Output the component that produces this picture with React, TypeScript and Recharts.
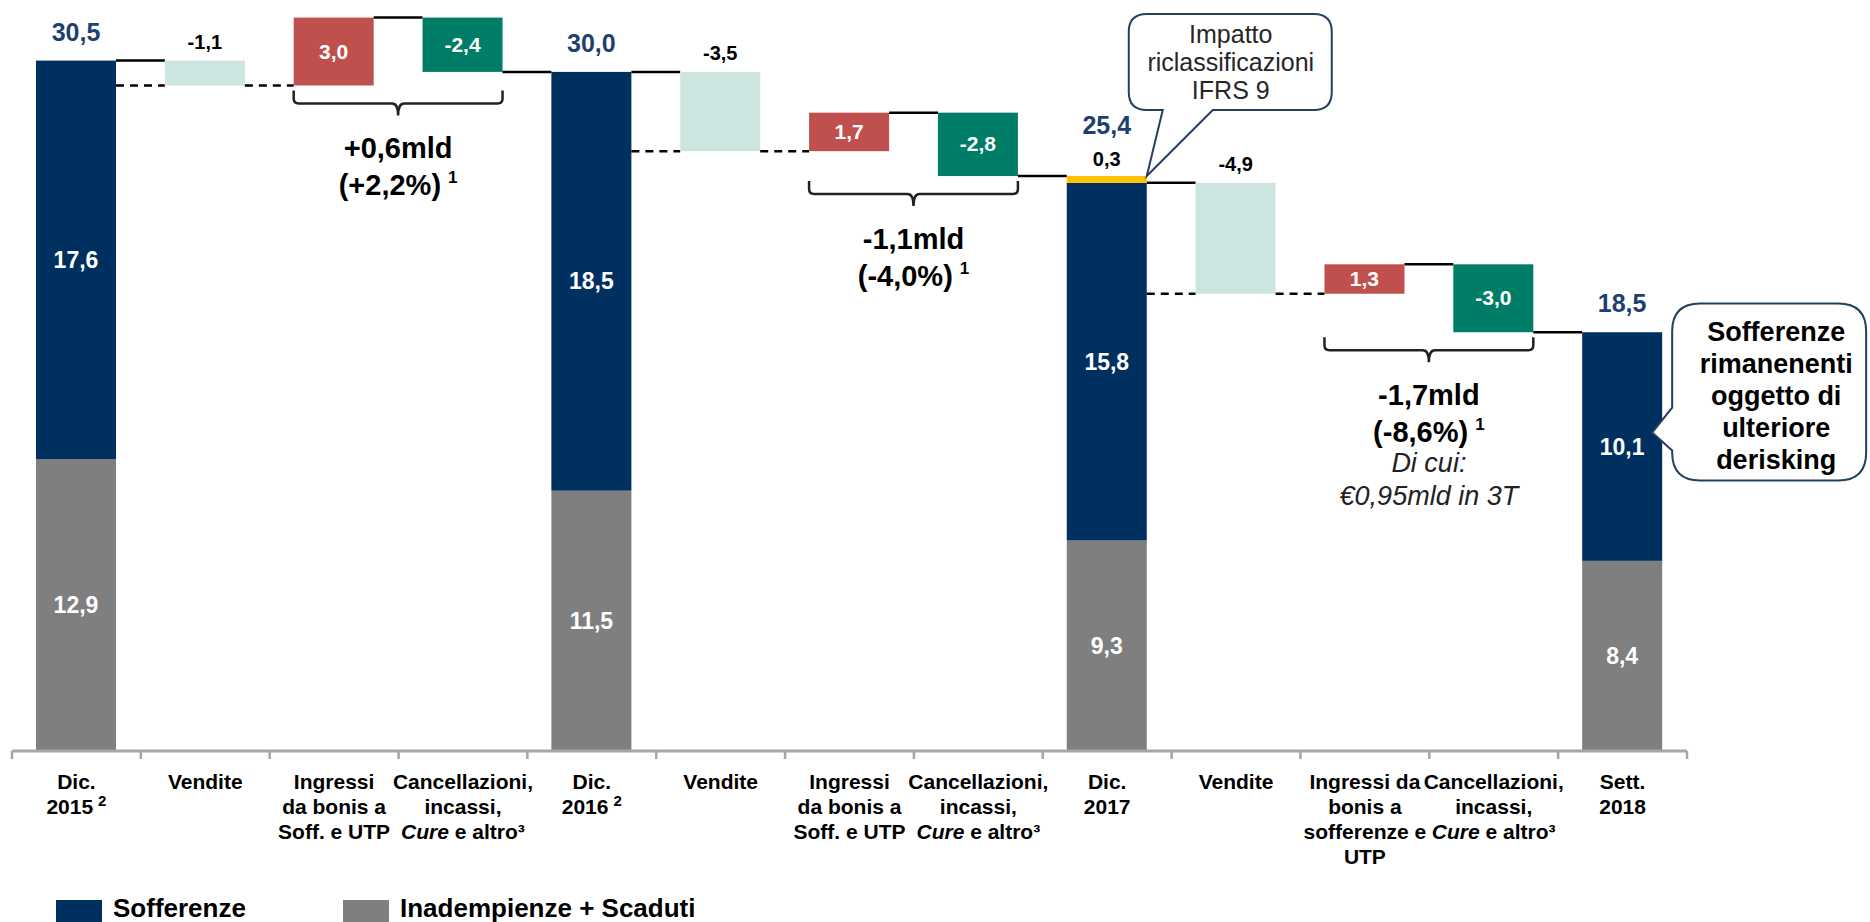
import React from "react";
import { BarChart, Bar, XAxis, YAxis, Legend } from "recharts";

// categories along the axis (keys are unique, labels live in tickLabels)
const categories = [
  "dic15", "vend16", "ingr16", "canc16",
  "dic16", "vend17", "ingr17", "canc17",
  "dic17", "vend18", "ingr18", "canc18",
  "sett18",
];
const kinds = [
  "stock", "sales", "inflow", "outflow",
  "stock", "sales", "inflow", "outflow",
  "stock", "sales", "inflow", "outflow",
  "stock",
];
const tickLabels: string[][] = [
  ["Dic.", "2015^2"],
  ["Vendite"],
  ["Ingressi", "da bonis a", "Soff. e UTP"],
  ["Cancellazioni,", "incassi,", "*Cure* e altro³"],
  ["Dic.", "2016^2"],
  ["Vendite"],
  ["Ingressi", "da bonis a", "Soff. e UTP"],
  ["Cancellazioni,", "incassi,", "*Cure* e altro³"],
  ["Dic.", "2017"],
  ["Vendite"],
  ["Ingressi da", "bonis a", "sofferenze e", "UTP"],
  ["Cancellazioni,", "incassi,", "*Cure* e altro³"],
  ["Sett.", "2018"],
];

// values in € bn
const sofferenze = [17.6, null, null, null, 18.5, null, null, null, 15.8, null, null, null, 10.1];
const inadempienze = [12.9, null, null, null, 11.5, null, null, null, 9.3, null, null, null, 8.4];
const ifrs9 = [null, null, null, null, null, null, null, null, 0.3, null, null, null, null];
const movements = [null, -1.1, 3.0, -2.4, null, -3.5, 1.7, -2.8, null, -4.9, 1.3, -3.0, null];

const braceMain = ["+0,6mld", "-1,1mld", "-1,7mld"];
const bracePct = ["(+2,2%)", "(-4,0%)", "(-8,6%)"];
const braceNote: string[][] = [[], [], ["Di cui:", "€0,95mld in 3T"]];
const ifrsCallout = ["Impatto", "riclassificazioni", "IFRS 9"];
const deriskCallout = ["Sofferenze", "rimanenenti", "oggetto di", "ulteriore", "derisking"];

const W = 1870;
const H = 922;
const MARGIN = { top: 4, right: 183, bottom: 51, left: 12 };
const AXIS_H = 120;
const BAR = 80;
const BAND = (W - MARGIN.left - MARGIN.right) / categories.length;
const Y_MAX = 33;

const FONT = "'Liberation Sans', Arial, Helvetica, sans-serif";
const NAVY = "#00305F";
const NAVY_TEXT = "#1F3F6E";
const GRAY = "#7F7F7F";
const SALES = "#CDE5E0";
const RED = "#C0504D";
const GREEN = "#007D66";
const YELLOW = "#FFC000";
const AXIS = "#A6A6A6";
const CALLOUT = "#243F60";

const fmt = (v: number) => v.toFixed(1).replace(".", ",");
const signed = (v: number) => (v < 0 ? "-" : "") + fmt(Math.abs(v));

// waterfall rows: invisible base + visible pieces
let level = 0;
const rows = categories.map((key, i) => {
  const move = movements[i];
  let base: number | null = null;
  let size: number | null = null;
  if (move == null) {
    level = (inadempienze[i] ?? 0) + (sofferenze[i] ?? 0);
  } else {
    const end = level + move;
    base = Math.min(level, end);
    size = Math.abs(move);
    level = end;
  }
  return {
    key,
    kind: kinds[i],
    gray: inadempienze[i],
    navy: sofferenze[i],
    ifrs: ifrs9[i],
    move,
    base,
    sale: kinds[i] === "sales" ? size : null,
    flow: kinds[i] === "inflow" || kinds[i] === "outflow" ? size : null,
    after: level,
  };
});

// connector lines in the gap right of bar i
const gapLines = (i: number) => {
  if (i >= rows.length - 1) return [];
  const out = [{ level: rows[i].after, dashed: rows[i].kind === "sales" }];
  if (rows[i].kind === "stock" && rows[i + 1].kind === "sales") {
    out.push({ level: rows[i + 1].after, dashed: true });
  }
  return out;
};

function Connectors({ i, x, width, yOf }: any) {
  return (
    <g>
      {gapLines(i).map((g, k) => (
        <line
          key={k}
          x1={x + width}
          x2={x + BAND}
          y1={yOf(g.level)}
          y2={yOf(g.level)}
          stroke="#000"
          strokeWidth={2.5}
          strokeDasharray={g.dashed ? "8 6" : undefined}
        />
      ))}
    </g>
  );
}

function Txt({ x, y, size, bold, fill = "#000", italic, anchor = "middle", children }: any) {
  return (
    <text
      x={x}
      y={y}
      textAnchor={anchor}
      fontFamily={FONT}
      fontSize={size}
      fontWeight={bold ? 700 : 400}
      fontStyle={italic ? "italic" : "normal"}
      fill={fill}
    >
      {children}
    </text>
  );
}

function Brace({ x1, x2, top, pair }: any) {
  const mid = (x1 + x2) / 2;
  const h = 13;
  const d = `M${x1},${top} L${x1},${top + h - 5} Q${x1},${top + h} ${x1 + 5},${top + h} L${mid - 6},${top + h} Q${mid},${top + h} ${mid},${top + 25} Q${mid},${top + h} ${mid + 6},${top + h} L${x2 - 5},${top + h} Q${x2},${top + h} ${x2},${top + h - 5} L${x2},${top}`;
  return (
    <g>
      <path d={d} fill="none" stroke="#222" strokeWidth={2.5} />
      <Txt x={mid} y={top + 68} size={29} bold>{braceMain[pair]}</Txt>
      <text x={mid} y={top + 105} textAnchor="middle" fontFamily={FONT} fontSize={29} fontWeight={700} fill="#000">
        {bracePct[pair]}
        <tspan fontSize={17} dx={7} dy={-12}>1</tspan>
      </text>
      {braceNote[pair].map((t, k) => (
        <Txt key={k} x={mid} y={top + 135 + k * 33} size={27} italic fill="#222">{t}</Txt>
      ))}
    </g>
  );
}

function IfrsCallout({ tx, ty }: any) {
  const L = tx - 18, T = ty - 162, R = L + 203, B = T + 96, r = 18;
  const p1 = tx + 16, p2 = tx + 66;
  const d = `M${L + r},${T} H${R - r} Q${R},${T} ${R},${T + r} V${B - r} Q${R},${B} ${R - r},${B} H${p2} L${tx},${ty} L${p1},${B} H${L + r} Q${L},${B} ${L},${B - r} V${T + r} Q${L},${T} ${L + r},${T} Z`;
  return (
    <g>
      <path d={d} fill="#fff" stroke={CALLOUT} strokeWidth={2} />
      {ifrsCallout.map((t, k) => (
        <Txt key={k} x={tx + 84} y={ty - 133 + k * 28} size={25} fill="#262626">{t}</Txt>
      ))}
    </g>
  );
}

function DeriskCallout({ tx, ty }: any) {
  const L = tx + 20, T = ty - 129, R = L + 194, B = T + 177, r = 28;
  const p1 = ty - 25, p2 = ty + 18;
  const d = `M${L + r},${T} H${R - r} Q${R},${T} ${R},${T + r} V${B - r} Q${R},${B} ${R - r},${B} H${L + r} Q${L},${B} ${L},${B - r} V${p2} L${tx},${ty} L${L},${p1} V${T + r} Q${L},${T} ${L + r},${T} Z`;
  return (
    <g>
      <path d={d} fill="#fff" stroke={CALLOUT} strokeWidth={2} />
      {deriskCallout.map((t, k) => (
        <Txt key={k} x={L + 104} y={T + 37 + k * 32} size={27} bold>{t}</Txt>
      ))}
    </g>
  );
}

function GrayShape(props: any) {
  const { x, y, width, height, payload } = props;
  if (!(height > 0)) return null;
  const row = rows[categories.indexOf(payload.key)];
  return (
    <g>
      <rect x={x} y={y} width={width} height={height} fill={GRAY} />
      <Txt x={x + width / 2} y={y + height / 2 + 8} size={23} bold fill="#fff">{fmt(row.gray as number)}</Txt>
    </g>
  );
}

function NavyShape(props: any) {
  const { x, y, width, height, payload } = props;
  if (!(height > 0)) return null;
  const i = categories.indexOf(payload.key);
  const row = rows[i];
  const top = (row.gray ?? 0) + (row.navy as number);
  const ppu = height / (row.navy as number);
  const yOf = (L: number) => y + (top - L) * ppu;
  return (
    <g>
      <rect x={x} y={y} width={width} height={height} fill={NAVY} />
      <Txt x={x + width / 2} y={y + height / 2 + 8} size={23} bold fill="#fff">{fmt(row.navy as number)}</Txt>
      {row.ifrs == null && (
        <Txt x={x + width / 2} y={y - 20} size={25} bold fill={NAVY_TEXT}>{fmt(top)}</Txt>
      )}
      <Connectors i={i} x={x} width={width} yOf={yOf} />
      {i === categories.length - 1 && <DeriskCallout tx={x + width - 10} ty={y + height / 2 - 14} />}
    </g>
  );
}

function IfrsShape(props: any) {
  const { x, y, width, height, payload } = props;
  if (!(height > 0)) return null;
  const row = rows[categories.indexOf(payload.key)];
  const total = (row.gray ?? 0) + (row.navy ?? 0) + (row.ifrs as number);
  return (
    <g>
      <rect x={x} y={y} width={width} height={height} fill={YELLOW} />
      <Txt x={x + width / 2} y={y - 10} size={20} bold>{fmt(row.ifrs as number)}</Txt>
      <Txt x={x + width / 2} y={y - 42} size={25} bold fill={NAVY_TEXT}>{fmt(total)}</Txt>
      <IfrsCallout tx={x + width} ty={y} />
    </g>
  );
}

function MoveShape(props: any) {
  const { x, y, width, height, payload } = props;
  if (!(height > 0)) return null;
  const i = categories.indexOf(payload.key);
  const row = rows[i];
  const size = Math.abs(row.move as number);
  const top = (row.base as number) + size;
  const ppu = height / size;
  const yOf = (L: number) => y + (top - L) * ppu;
  const fill = row.kind === "sales" ? SALES : row.kind === "inflow" ? RED : GREEN;
  let brace = null;
  if (row.kind === "outflow") {
    const pair = kinds.slice(0, i).filter((k) => k === "outflow").length;
    const low = Math.min(rows[i - 1].base as number, row.base as number);
    brace = <Brace x1={x - BAND} x2={x + width} top={yOf(low) + 5} pair={pair} />;
  }
  return (
    <g>
      <rect x={x} y={y} width={width} height={height} fill={fill} />
      {row.kind === "sales" ? (
        <Txt x={x + width / 2} y={y - 12} size={20} bold>{signed(row.move as number)}</Txt>
      ) : (
        <Txt x={x + width / 2} y={y + height / 2 + 7} size={21} bold fill="#fff">{signed(row.move as number)}</Txt>
      )}
      <Connectors i={i} x={x} width={width} yOf={yOf} />
      {brace}
    </g>
  );
}

function renderParts(line: string) {
  return line.split(/(\*[^*]+\*|\^\w)/).filter(Boolean).map((part, k) => {
    if (part.startsWith("*")) return <tspan key={k} fontStyle="italic">{part.slice(1, -1)}</tspan>;
    if (part.startsWith("^")) return <tspan key={k} fontSize={15} dx={5} dy={-8}>{part.slice(1)}</tspan>;
    return <tspan key={k}>{part}</tspan>;
  });
}

function AxisTick(props: any) {
  const { x, y, payload } = props;
  const i = categories.indexOf(payload.value);
  const lines = tickLabels[i] ?? [];
  return (
    <g>
      <line x1={x - BAND / 2} x2={x - BAND / 2} y1={y} y2={y + 8} stroke={AXIS} strokeWidth={2.5} />
      {i === categories.length - 1 && (
        <line x1={x + BAND / 2} x2={x + BAND / 2} y1={y} y2={y + 8} stroke={AXIS} strokeWidth={2.5} />
      )}
      {lines.map((ln, k) => (
        <text key={k} x={x} y={y + 38 + k * 25} textAnchor="middle" fontFamily={FONT} fontSize={21} fontWeight={700} fill="#000">
          {renderParts(ln)}
        </text>
      ))}
    </g>
  );
}

function LegendRow() {
  const item = (color: string, label: string, w: number) => (
    <div style={{ display: "flex", alignItems: "flex-start", width: w }}>
      <span style={{ display: "inline-block", width: 46, height: 26, marginTop: 4, marginRight: 11, background: color }} />
      <span>{label}</span>
    </div>
  );
  return (
    <div style={{ display: "flex", fontFamily: FONT, fontWeight: 700, fontSize: 26, lineHeight: "24px", color: "#000" }}>
      {item(NAVY, "Sofferenze", 287)}
      {item(GRAY, "Inadempienze + Scaduti", 500)}
    </div>
  );
}

export default function App() {
  return (
    <div style={{ position: "absolute", left: 0, top: 0, width: W, height: H, background: "#fff", overflow: "hidden" }}>
      <BarChart width={W} height={H} data={rows} margin={MARGIN} barSize={BAR}>
        <XAxis
          dataKey="key"
          height={AXIS_H}
          interval={0}
          tickSize={0}
          tickMargin={0}
          tickLine={false}
          axisLine={{ stroke: AXIS, strokeWidth: 3 }}
          tick={(p: any) => <AxisTick {...p} />}
        />
        <YAxis hide type="number" domain={[0, Y_MAX]} allowDataOverflow />
        <Legend
          layout="horizontal"
          verticalAlign="middle"
          align="center"
          wrapperStyle={{ left: 56, top: 896, width: 800, height: 26 }}
          content={() => <LegendRow />}
        />
        <Bar dataKey="base" stackId="w" fill="transparent" isAnimationActive={false} />
        <Bar dataKey="gray" stackId="w" fill={GRAY} shape={(p: any) => <GrayShape {...p} />} isAnimationActive={false} />
        <Bar dataKey="navy" stackId="w" fill={NAVY} shape={(p: any) => <NavyShape {...p} />} isAnimationActive={false} />
        <Bar dataKey="ifrs" stackId="w" fill={YELLOW} shape={(p: any) => <IfrsShape {...p} />} isAnimationActive={false} />
        <Bar dataKey="sale" stackId="w" fill={SALES} shape={(p: any) => <MoveShape {...p} />} isAnimationActive={false} />
        <Bar dataKey="flow" stackId="w" fill={RED} shape={(p: any) => <MoveShape {...p} />} isAnimationActive={false} />
      </BarChart>
    </div>
  );
}
